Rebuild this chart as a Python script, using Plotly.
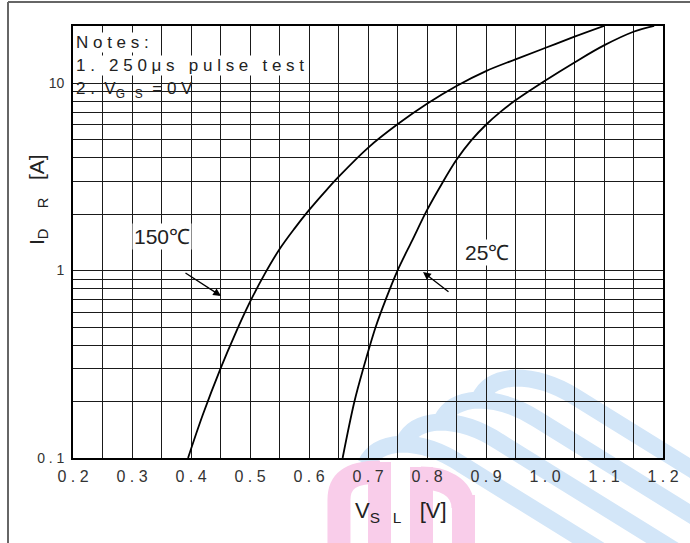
import plotly.graph_objects as go

# ---- data ----
v_150 = [0.395, 0.420, 0.450, 0.475, 0.500, 0.525, 0.550, 0.575, 0.600, 0.625, 0.650, 0.700, 0.750, 0.800, 0.850, 0.900, 0.950, 1.000, 1.050, 1.100]
i_150 = [0.10, 0.17, 0.30, 0.46, 0.68, 0.96, 1.30, 1.67, 2.10, 2.59, 3.16, 4.52, 6.03, 7.76, 9.66, 11.6, 13.4, 15.4, 17.7, 20.2]
v_25 = [0.657, 0.677, 0.692, 0.713, 0.730, 0.750, 0.775, 0.800, 0.825, 0.850, 0.875, 0.900, 0.925, 0.950, 1.000, 1.050, 1.100, 1.150, 1.185]
i_25 = [0.10, 0.20, 0.30, 0.50, 0.70, 1.00, 1.45, 2.10, 2.90, 3.90, 4.95, 6.00, 7.05, 8.10, 10.3, 12.9, 15.9, 18.8, 20.2]

x_grid = [round(0.2 + 0.05 * k, 2) for k in range(21)]
x_labels = ["0 . 2", "0 . 3", "0 . 4", "0 . 5", "0 . 6", "0 . 7", "0 . 8", "0 . 9", "1 . 0", "1 . 1", "1 . 2"]
y_grid = [0.1, 0.2, 0.3, 0.4, 0.5, 0.6, 0.7, 0.8, 0.9, 1, 2, 3, 4, 5, 6, 7, 8, 9, 10, 20]
y_labels = {0.1: "0 . 1", 1: "1", 10: "10"}

W, H = 690, 543
ML, MR, MT, MB = 73, 27, 26, 85
PW, PH = W - ML - MR, H - MT - MB


def px(x, y):
    return (x - ML) / PW, (H - MB - y) / PH


def pt(x, y):
    a, b = px(x, y)
    return "%.4f,%.4f" % (a, b)


fig = go.Figure()

line_style = dict(color="black", width=1.8, shape="spline", smoothing=1.0)
fig.add_trace(go.Scatter(x=v_150, y=i_150, mode="lines", line=line_style, showlegend=False, hoverinfo="skip"))
fig.add_trace(go.Scatter(x=v_25, y=i_25, mode="lines", line=line_style, showlegend=False, hoverinfo="skip"))

shapes = []
# ---- watermark (decoration) ----
blue = "#d3e6f8"
pink = "#f9cdea"
for k in range(4):
    tx, ty = 480 - 38 * k, 398 + 22 * k
    cx, cy = 515 - 38 * k, 378 + 22 * k
    end_right = 468 + 46 * k
    pxx = cx + 60
    pyy = end_right - 0.62 * (690 - pxx)
    ex, ey = 800, end_right + 0.62 * 110
    d = ("M " + pt(tx, ty) + " Q " + pt(tx + 8, cy + 2) + " " + pt(cx, cy) +
         " Q " + pt(cx + 30, cy) + " " + pt(pxx, pyy) + " L " + pt(ex, ey))
    shapes.append(dict(type="path", xref="paper", yref="paper", layer="below", path=d,
                       line=dict(color=blue, width=17)))
d = "M " + pt(339, 560) + " L " + pt(339, 500) + " C " + pt(339, 480) + " " + pt(352, 472) + " " + pt(380, 472)
shapes.append(dict(type="path", xref="paper", yref="paper", layer="below", path=d, line=dict(color=pink, width=23)))
for (x0, x1, y0) in [(368, 391, 462), (410, 433, 467), (452, 475, 495)]:
    a = px(x0, y0)
    b = px(x1, H + 5)
    shapes.append(dict(type="rect", xref="paper", yref="paper", layer="below", x0=a[0], x1=b[0], y0=b[1], y1=a[1],
                       line=dict(width=0), fillcolor=pink))
d = "M " + pt(421, 478) + " C " + pt(442, 478) + " " + pt(463, 486) + " " + pt(463, 508)
shapes.append(dict(type="path", xref="paper", yref="paper", layer="below", path=d, line=dict(color=pink, width=23)))
# ---- outer frame ----
a = px(8, 2)
b = px(8, H + 5)
c = px(W + 5, 2)
shapes.append(dict(type="line", xref="paper", yref="paper", x0=a[0], y0=a[1], x1=b[0], y1=b[1], line=dict(color="#666", width=2)))
shapes.append(dict(type="line", xref="paper", yref="paper", x0=a[0], y0=a[1], x1=c[0], y1=c[1], line=dict(color="#666", width=2)))

annotations = []
note_font = dict(family="Liberation Sans, Arial", size=17, color="#222")
for txt, yy, bg in [("N o t e s :", 42, "white"),
                    ("1 .   2 5 0 μ s   p u l s e   t e s t", 66, "white"),
                    ("2 .  V<sub>G   S</sub>  = 0 V", 90, "rgba(0,0,0,0)")]:
    p = px(75, yy)
    annotations.append(dict(xref="paper", yref="paper", x=p[0], y=p[1], xanchor="left", yanchor="middle",
                            text=txt, showarrow=False, font=note_font, bgcolor=bg, borderpad=0))

lab_font = dict(family="Liberation Sans, Arial", size=21, color="#222")
p = px(162, 236)
annotations.append(dict(xref="paper", yref="paper", x=p[0], y=p[1], xanchor="center", yanchor="middle",
                        text="150℃", showarrow=False, font=lab_font, bgcolor="white", borderpad=1))
p = px(487, 252)
annotations.append(dict(xref="paper", yref="paper", x=p[0], y=p[1], xanchor="center", yanchor="middle",
                        text="25℃", showarrow=False, font=lab_font, bgcolor="white", borderpad=1))
# arrows
p = px(221, 296)
annotations.append(dict(xref="paper", yref="paper", x=p[0], y=p[1], ax=-37, ay=-24, text="", showarrow=True,
                        arrowhead=2, arrowsize=1.2, arrowwidth=1.3, arrowcolor="black"))
p = px(423, 272)
annotations.append(dict(xref="paper", yref="paper", x=p[0], y=p[1], ax=27, ay=21, text="", showarrow=True,
                        arrowhead=2, arrowsize=1.2, arrowwidth=1.3, arrowcolor="black"))
# axis titles
p = px(401, 512)
annotations.append(dict(xref="paper", yref="paper", x=p[0], y=p[1], xanchor="center", yanchor="middle", showarrow=False,
                        text="V<sub>S   L</sub>   [V]", font=dict(family="Liberation Sans, Arial", size=22, color="#222")))
p = px(38, 200)
annotations.append(dict(xref="paper", yref="paper", x=p[0], y=p[1], xanchor="center", yanchor="middle", showarrow=False,
                        textangle=-90, text="I<sub>D     R</sub>   [A]",
                        font=dict(family="Liberation Sans, Arial", size=21, color="#222")))

fig.update_layout(
    width=W, height=H,
    margin=dict(l=ML, r=MR, t=MT, b=MB),
    paper_bgcolor="white", plot_bgcolor="rgba(0,0,0,0)",
    shapes=shapes, annotations=annotations,
    xaxis=dict(range=[0.2, 1.2], tickmode="array", tickvals=x_grid,
               ticktext=[x_labels[k // 2] if k % 2 == 0 else "" for k in range(21)],
               showgrid=True, gridcolor="#1a1a1a", gridwidth=1.3, zeroline=False,
               showline=True, linecolor="black", linewidth=1.6, mirror=True,
               ticks="", ticklabelstandoff=3,
               tickfont=dict(family="Liberation Sans, Arial", size=16, color="#333")),
    yaxis=dict(type="log", range=[-1, 1.305], tickmode="array", tickvals=y_grid,
               ticktext=[y_labels.get(v, "") for v in y_grid],
               showgrid=True, gridcolor="#1a1a1a", gridwidth=1.3, zeroline=False,
               showline=True, linecolor="black", linewidth=1.6, mirror=True,
               ticks="", ticklabelstandoff=4,
               tickfont=dict(family="Liberation Sans, Arial", size=14, color="#333")),
)

fig.write_html("out.html")
